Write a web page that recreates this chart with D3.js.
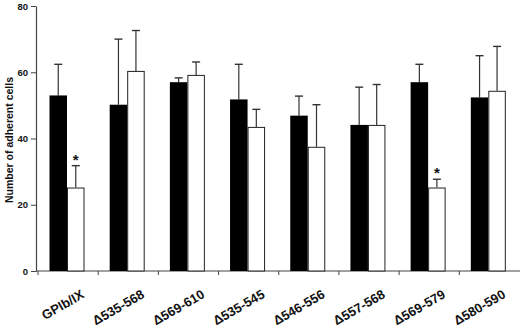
<!DOCTYPE html>
<html>
<head>
<meta charset="utf-8">
<script src="https://cdn.jsdelivr.net/npm/d3@7"></script>
<style>
  body { margin: 0; background: #fff; }
  svg { display: block; font-family: "Liberation Sans", Arial, sans-serif; }
</style>
</head>
<body>
<div id="chart"></div>
<script>
const categories = ["GPIb/IX", "Δ535-568", "Δ569-610", "Δ535-545", "Δ546-556", "Δ557-568", "Δ569-579", "Δ580-590"];
const blackMeans = [53, 50.2, 57, 51.8, 46.9, 44.1, 57, 52.4];
const blackErr = [62.4, 70, 58.3, 62.4, 52.8, 55.5, 62.4, 65];
const whiteMeans = [25.2, 60.4, 59.2, 43.5, 37.5, 44.1, 25.2, 54.4];
const whiteErr = [31.8, 72.6, 63.1, 48.8, 50.2, 56.3, 27.7, 67.8];
const starred = ["GPIb/IX", "Δ569-579"];
const yTicks = [0, 20, 40, 60, 80];

const W = 520, H = 328;
const axisX = 36, axisY = 271;

const svg = d3.select("#chart")
    .append("svg")
    .attr("width", W)
    .attr("height", H);

let x = d3.scaleBand()
    .domain(categories)
    .range([38, 519.5])
    .padding(0);

let sub = d3.scaleBand()
    .domain(["black", "white"])
    .range([11.5, 46.5])
    .padding(0);

let y = d3.scaleLinear()
    .domain([0, 80])
    .range([axisY, 6]);

// y axis
const yAxis = svg.append("g")
    .attr("transform", "translate(" + axisX + ",0)")
    .call(d3.axisLeft(y).tickValues(yTicks).tickSize(5).tickSizeOuter(0).tickPadding(3));
yAxis.select(".domain").attr("stroke", "#444").attr("stroke-width", 1.2);
yAxis.selectAll(".tick line").attr("stroke", "#444");
yAxis.selectAll("text")
    .attr("font-size", 9.5)
    .attr("font-weight", "bold")
    .attr("fill", "#111");

svg.append("text")
    .attr("transform", "translate(13," + 140 + ")rotate(-90)")
    .attr("text-anchor", "middle")
    .attr("font-size", 10.5)
    .attr("font-weight", "bold")
    .attr("fill", "#111")
    .text("Number of adherent cells");

// x axis line and boundary ticks
svg.append("line")
    .attr("x1", axisX).attr("x2", W)
    .attr("y1", axisY).attr("y2", axisY)
    .attr("stroke", "#444").attr("stroke-width", 1.2);

svg.selectAll(".xtick")
    .data(categories)
    .enter()
    .append("line")
    .attr("class", "xtick")
    .attr("x1", d => x(d)).attr("x2", d => x(d))
    .attr("y1", axisY).attr("y2", axisY + 4)
    .attr("stroke", "#444");

// category labels run along slanted paths (30 degrees)
const ang = 30 * Math.PI / 180;
const len = 80;
const defs = svg.append("defs");
defs.selectAll("path")
    .data(categories)
    .enter()
    .append("path")
    .attr("id", (d, i) => "lab" + i)
    .attr("d", d => {
        const ex = x(d) + x.bandwidth() / 2 + 17, ey = 297;
        return "M" + (ex - len * Math.cos(ang)) + "," + (ey + len * Math.sin(ang)) + "L" + ex + "," + ey;
    });

svg.selectAll(".xlabel")
    .data(categories)
    .enter()
    .append("text")
    .attr("class", "xlabel")
    .attr("font-size", 13)
    .attr("font-weight", "bold")
    .attr("fill", "#111")
    .append("textPath")
    .attr("href", (d, i) => "#lab" + i)
    .attr("startOffset", "100%")
    .attr("text-anchor", "end")
    .text(d => d);

// bars
const rows = categories.map((c, i) => [
    { cat: c, key: "black", v: blackMeans[i], e: blackErr[i] },
    { cat: c, key: "white", v: whiteMeans[i], e: whiteErr[i] }
]).flat();

const bars = svg.append("g");

// error bars (drawn first so the bar sits over the stem)
bars.selectAll(".err")
    .data(rows)
    .enter()
    .append("line")
    .attr("x1", d => x(d.cat) + sub(d.key) + sub.bandwidth() / 2)
    .attr("x2", d => x(d.cat) + sub(d.key) + sub.bandwidth() / 2)
    .attr("y1", d => y(d.v))
    .attr("y2", d => y(d.e))
    .attr("stroke", "#333")
    .attr("stroke-width", 1.2);

bars.selectAll(".cap")
    .data(rows)
    .enter()
    .append("line")
    .attr("x1", d => x(d.cat) + sub(d.key) + sub.bandwidth() / 2 - 4)
    .attr("x2", d => x(d.cat) + sub(d.key) + sub.bandwidth() / 2 + 4)
    .attr("y1", d => y(d.e))
    .attr("y2", d => y(d.e))
    .attr("stroke", "#333")
    .attr("stroke-width", 1.4);

bars.selectAll("rect")
    .data(rows)
    .enter()
    .append("rect")
    .attr("x", d => x(d.cat) + sub(d.key) + (d.key === "white" ? 0.5 : 0))
    .attr("y", d => y(d.v) + (d.key === "white" ? 0.5 : 0))
    .attr("width", d => sub.bandwidth() - (d.key === "white" ? 1 : 0))
    .attr("height", d => y(0) - y(d.v) - (d.key === "white" ? 0.5 : 0))
    .attr("fill", d => d.key === "black" ? "#000" : "#fff")
    .attr("stroke", d => d.key === "white" ? "#222" : "none")
    .attr("stroke-width", 1);

// significance stars
bars.selectAll(".star")
    .data(rows.filter(d => d.key === "white" && starred.includes(d.cat)))
    .enter()
    .append("text")
    .attr("x", d => x(d.cat) + sub(d.key) + sub.bandwidth() / 2)
    .attr("y", d => y(d.e) - 1)
    .attr("text-anchor", "middle")
    .attr("font-size", 15)
    .attr("font-weight", "bold")
    .attr("fill", "#111")
    .text("*");
</script>
</body>
</html>
